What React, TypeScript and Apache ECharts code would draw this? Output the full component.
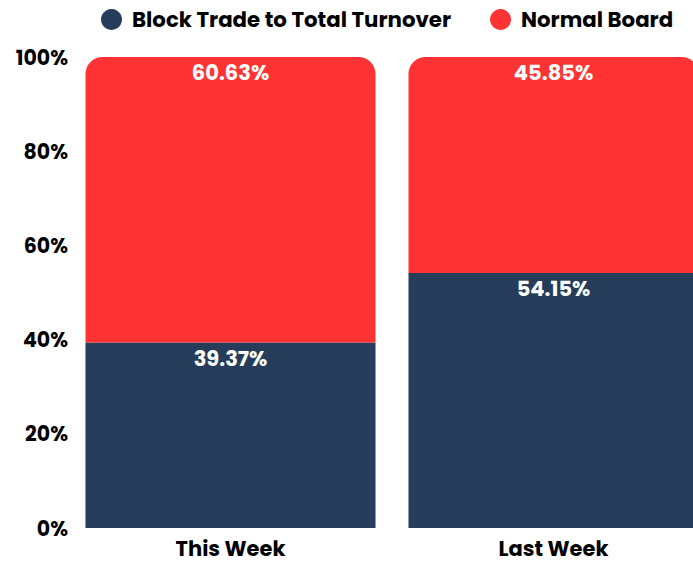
import React, { useEffect, useRef } from "react";
import * as echarts from "echarts";

const categories = ["This Week", "Last Week"];
const blockTrade = [39.37, 54.15];
const normalBoard = [60.63, 45.85];
const seriesNames = ["Block Trade to Total Turnover", "Normal Board"];

const FONT = "Poppins, 'Open Sans', 'Noto Sans', sans-serif";

export default function App() {
  const ref = useRef<HTMLDivElement>(null);
  useEffect(() => {
    const chart = echarts.init(ref.current!, null, { renderer: "svg" });
    const barLabel = {
      show: true,
      position: "insideTop",
      distance: 5,
      formatter: (p: any) => p.value.toFixed(2) + "%",
      color: "#fff",
      fontFamily: FONT,
      fontWeight: "bold",
      fontSize: 21,
    };
    chart.setOption({
      animation: false,
      textStyle: { fontFamily: FONT },
      legend: {
        top: 4,
        left: 96,
        itemGap: 39,
        itemWidth: 21,
        itemHeight: 21,
        icon: "circle",
        textStyle: {
          fontFamily: FONT,
          fontWeight: "bold",
          fontSize: 21.3,
          color: "#000",
          padding: [0, 0, 0, 5],
        },
        data: seriesNames,
      },
      grid: {
        left: 69,
        width: 646,
        top: 57,
        bottom: 35,
        containLabel: false,
        outerBoundsMode: "none",
      },
      xAxis: {
        type: "category",
        data: categories,
        axisLine: { show: false },
        axisTick: { show: false },
        axisLabel: { fontFamily: FONT, fontWeight: "bold", fontSize: 21, color: "#000", margin: 10 },
      },
      yAxis: {
        type: "value",
        min: 0,
        max: 100,
        interval: 20,
        splitLine: { show: false },
        axisLine: { show: false },
        axisTick: { show: false },
        axisLabel: {
          formatter: "{value}%",
          fontFamily: FONT,
          fontWeight: "bold",
          fontSize: 20.5,
          color: "#000",
          margin: 1,
        },
      },
      series: [
        {
          name: seriesNames[0],
          type: "bar",
          stack: "total",
          barWidth: 290,
          data: blockTrade,
          itemStyle: { color: "#253D5A" },
          label: barLabel,
        },
        {
          name: seriesNames[1],
          type: "bar",
          stack: "total",
          barWidth: 290,
          data: normalBoard,
          itemStyle: { color: "#FF3333", borderRadius: [17, 17, 0, 0] },
          label: barLabel,
        },
      ],
    });
    return () => chart.dispose();
  }, []);
  return <div ref={ref} style={{ width: 693, height: 563, position: "absolute", left: 0, top: 0 }} />;
}
